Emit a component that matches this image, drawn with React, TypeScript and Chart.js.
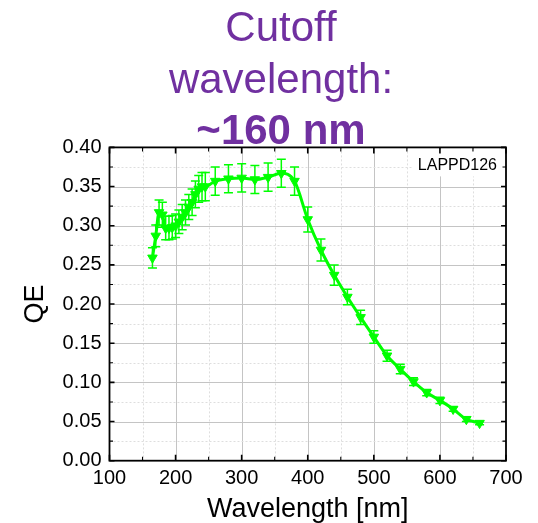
import React, { useEffect, useRef } from "react";
import { Chart, registerables } from "chart.js";

Chart.register(...registerables);

// ---- data ----
const wavelengths = [
  165, 170, 175, 180, 185, 190, 195, 200, 205, 210, 215, 220, 225, 230, 235, 240, 245,
  260, 280, 300, 320, 340, 360, 380, 400, 420, 440, 460, 480, 500, 520, 540, 560, 580,
  600, 620, 640, 660,
];
const qeValues = [
  0.259, 0.287, 0.317, 0.314, 0.297, 0.297, 0.298, 0.3, 0.305, 0.311, 0.317, 0.324, 0.33,
  0.34, 0.347, 0.35, 0.35, 0.357, 0.36, 0.361, 0.359, 0.362, 0.367, 0.357, 0.308, 0.269,
  0.237, 0.209, 0.183, 0.158, 0.134, 0.117, 0.101, 0.087, 0.077, 0.066, 0.053, 0.048,
];
const qeErrors = [
  0.013, 0.014, 0.016, 0.016, 0.015, 0.015, 0.015, 0.015, 0.015, 0.016, 0.016, 0.016,
  0.017, 0.017, 0.017, 0.018, 0.018, 0.018, 0.018, 0.018, 0.018, 0.018, 0.018, 0.018,
  0.016, 0.014, 0.013, 0.01, 0.009, 0.008, 0.007, 0.006, 0.005, 0.004, 0.004, 0.003,
  0.003, 0.002,
];
const xMin = 100;
const xMax = 700;
const xStep = 100;
const yMin = 0;
const yMax = 0.4;
const yStep = 0.05;
const xTitle = "Wavelength [nm]";
const yTitle = "QE";
const titleLines = ["Cutoff", "wavelength:"];
const titleBold = "~160 nm";
const sampleLabel = "LAPPD126";

const GREEN = "#00ff00";
const PURPLE = "#7030a0";
const FONT = '"Liberation Sans", Arial, sans-serif';

const decorPlugin = {
  id: "decor",
  beforeDatasetsDraw(chart: any) {
    const { ctx, chartArea: a, scales } = chart;
    const xs = scales.x;
    const ys = scales.y;
    ctx.save();
    // vertical grid
    for (let v = xMin + xStep / 2; v < xMax; v += xStep / 2) {
      const px = Math.round(xs.getPixelForValue(v)) + 0.5;
      const major = Math.abs(v % xStep) < 1e-6;
      ctx.beginPath();
      ctx.strokeStyle = major ? "#c4c4c4" : "#dedede";
      ctx.lineWidth = 1;
      ctx.setLineDash(major ? [] : [2, 2]);
      ctx.moveTo(px, a.top);
      ctx.lineTo(px, a.bottom);
      ctx.stroke();
    }
    // horizontal grid
    for (let k = 1; k < 16; k++) {
      const v = (k * yStep) / 2;
      const py = Math.round(ys.getPixelForValue(v)) + 0.5;
      const major = k % 2 === 0;
      ctx.beginPath();
      ctx.strokeStyle = major ? "#c4c4c4" : "#dedede";
      ctx.lineWidth = 1;
      ctx.setLineDash(major ? [] : [2, 2]);
      ctx.moveTo(a.left, py);
      ctx.lineTo(a.right, py);
      ctx.stroke();
    }
    ctx.setLineDash([]);
    // label box
    ctx.font = `16px ${FONT}`;
    const tw = ctx.measureText(sampleLabel).width;
    ctx.fillStyle = "#ffffff";
    ctx.fillRect(a.right - 9 - tw - 6, a.top + 2, tw + 12, 27);
    ctx.fillStyle = "#000000";
    ctx.textAlign = "right";
    ctx.textBaseline = "alphabetic";
    ctx.fillText(sampleLabel, a.right - 9, a.top + 23);
    // error bars
    ctx.strokeStyle = GREEN;
    ctx.lineWidth = 1.5;
    for (let i = 0; i < wavelengths.length; i++) {
      const px = xs.getPixelForValue(wavelengths[i]);
      const yt = ys.getPixelForValue(qeValues[i] + qeErrors[i]);
      const yb = ys.getPixelForValue(qeValues[i] - qeErrors[i]);
      ctx.beginPath();
      ctx.moveTo(px, yt);
      ctx.lineTo(px, yb);
      ctx.moveTo(px - 4.5, yt);
      ctx.lineTo(px + 4.5, yt);
      ctx.moveTo(px - 4.5, yb);
      ctx.lineTo(px + 4.5, yb);
      ctx.stroke();
    }
    ctx.restore();
  },
  afterDatasetsDraw(chart: any) {
    const { ctx, chartArea: a, scales } = chart;
    const xs = scales.x;
    const ys = scales.y;
    ctx.save();
    ctx.strokeStyle = "#000";
    // ticks
    for (let v = xMin; v <= xMax + 1e-6; v += xStep / 2) {
      const px = xs.getPixelForValue(v);
      const major = Math.abs(v % xStep) < 1e-6;
      const len = major ? 6 : 4;
      ctx.lineWidth = major ? 1.6 : 1.1;
      ctx.beginPath();
      ctx.moveTo(px, a.bottom);
      ctx.lineTo(px, a.bottom - len);
      ctx.moveTo(px, a.top);
      ctx.lineTo(px, a.top + len);
      ctx.stroke();
    }
    for (let k = 0; k <= 16; k++) {
      const v = (k * yStep) / 2;
      const py = ys.getPixelForValue(v);
      const major = k % 2 === 0;
      const len = major ? 5 : 3.5;
      ctx.lineWidth = major ? 1.6 : 1.1;
      ctx.beginPath();
      ctx.moveTo(a.left, py);
      ctx.lineTo(a.left + len, py);
      ctx.moveTo(a.right, py);
      ctx.lineTo(a.right - len, py);
      ctx.stroke();
    }
    // frame
    ctx.lineWidth = 1.8;
    ctx.strokeRect(a.left, a.top, a.right - a.left, a.bottom - a.top);
    ctx.restore();
  },
  afterDraw(chart: any) {
    const { ctx } = chart;
    ctx.save();
    ctx.fillStyle = PURPLE;
    ctx.textAlign = "center";
    ctx.textBaseline = "alphabetic";
    ctx.font = `42px ${FONT}`;
    ctx.fillText(titleLines[0], 281, 41);
    ctx.fillText(titleLines[1], 281, 93);
    ctx.font = `bold 42px ${FONT}`;
    ctx.fillText(titleBold, 281, 144);
    ctx.restore();
  },
};

export default function App() {
  const ref = useRef<HTMLCanvasElement | null>(null);
  useEffect(() => {
    if (!ref.current) return;
    Chart.defaults.font.family = FONT;
    const chart = new Chart(ref.current, {
      type: "line",
      data: {
        datasets: [
          {
            data: wavelengths.map((w, i) => ({ x: w, y: qeValues[i] })),
            borderColor: GREEN,
            backgroundColor: GREEN,
            borderWidth: 3,
            pointStyle: "triangle",
            rotation: 180,
            pointRadius: 5.5,
            pointBorderWidth: 1,
            pointBackgroundColor: GREEN,
            pointBorderColor: GREEN,
            cubicInterpolationMode: "monotone",
          },
        ],
      },
      plugins: [decorPlugin],
      options: {
        animation: false,
        responsive: false,
        layout: { padding: { left: 0, right: 32, top: 147.4, bottom: 0 } },
        plugins: { legend: { display: false }, tooltip: { enabled: false }, title: { display: false } },
        scales: {
          x: {
            type: "linear",
            min: xMin,
            max: xMax,
            grid: { display: false, drawTicks: false },
            border: { display: false },
            ticks: {
              stepSize: xStep,
              color: "#000",
              font: { size: 20 },
              padding: 6,
              maxRotation: 0,
              callback: (v: any) => String(v),
            },
            title: {
              display: true,
              text: xTitle,
              color: "#000",
              font: { size: 27 },
              padding: { top: 0, bottom: -3 },
            },
            afterFit: (s: any) => {
              s.height = 62.3;
            },
          },
          y: {
            type: "linear",
            min: yMin,
            max: yMax,
            grid: { display: false, drawTicks: false },
            border: { display: false },
            ticks: {
              stepSize: yStep,
              color: "#000",
              font: { size: 20 },
              padding: 8,
              callback: (v: any) => Number(v).toFixed(2),
            },
            title: {
              display: true,
              text: yTitle,
              color: "#000",
              font: { size: 27 },
              padding: { top: 19, bottom: 0 },
            },
            afterFit: (s: any) => {
              s.width = 109.5;
            },
          },
        },
      },
    } as any);
    return () => chart.destroy();
  }, []);
  return (
    <div style={{ position: "absolute", left: 0, top: 0, width: 538, height: 523, background: "#fff" }}>
      <canvas ref={ref} width={538} height={523} />
    </div>
  );
}
